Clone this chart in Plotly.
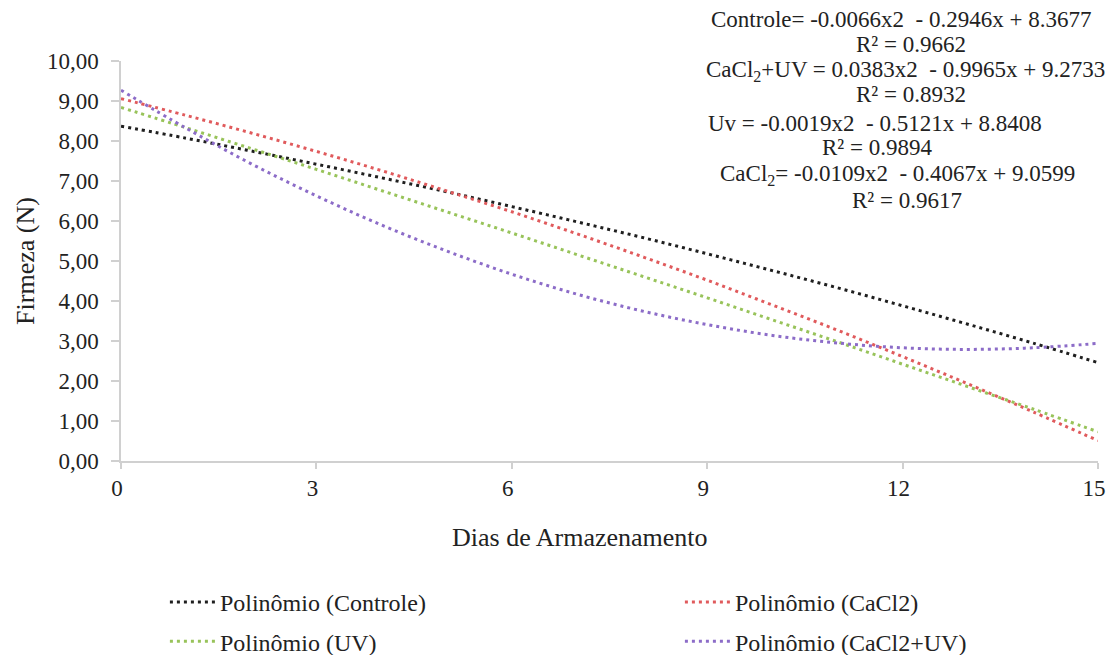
import plotly.graph_objects as go

# Storage days
dias = [0, 1, 2, 3, 4, 5, 6, 7, 8, 9, 10, 11, 12, 13, 14, 15]

# Firmness values (N)
controle = [8.37, 8.07, 7.75, 7.42, 7.08, 6.73, 6.36, 5.98, 5.59, 5.18, 4.76, 4.33, 3.88, 3.42, 2.95, 2.46]
cacl2 = [9.06, 8.64, 8.20, 7.74, 7.26, 6.75, 6.23, 5.68, 5.11, 4.52, 3.90, 3.27, 2.61, 1.93, 1.23, 0.51]
uv = [8.84, 8.33, 7.81, 7.29, 6.76, 6.23, 5.70, 5.16, 4.62, 4.08, 3.53, 2.98, 2.42, 1.86, 1.30, 0.73]
cacl2_uv = [9.27, 8.32, 7.43, 6.63, 5.90, 5.25, 4.67, 4.17, 3.75, 3.41, 3.14, 2.95, 2.83, 2.79, 2.83, 2.94]

series_names = ["Polinômio (Controle)", "Polinômio (CaCl2)", "Polinômio (UV)", "Polinômio (CaCl2+UV)"]
series_values = [controle, cacl2, uv, cacl2_uv]
series_colors = ["#1f1f1f", "#e05a5c", "#98c35a", "#8c6cc8"]

x_ticks = [0, 3, 6, 9, 12, 15]
y_ticks = [0, 1, 2, 3, 4, 5, 6, 7, 8, 9, 10]

equations = [
    "Controle= -0.0066x2  - 0.2946x + 8.3677",
    "R² = 0.9662",
    "CaCl<sub>2</sub>+UV = 0.0383x2  - 0.9965x + 9.2733",
    "R² = 0.8932",
    "Uv = -0.0019x2  - 0.5121x + 8.8408",
    "R² = 0.9894",
    "CaCl<sub>2</sub>= -0.0109x2  - 0.4067x + 9.0599",
    "R² = 0.9617",
]
# positions in screen pixels
eq_x_px = [901, 911, 905, 911, 875, 877, 897, 907]
eq_y_px = [19, 44, 71, 95, 124, 147, 175, 200]

FONT = "Liberation Serif"
TXT = "#222222"

# The page body has an 8px margin: keep the figure inside the window
OFF = 8
W, H = 1115 - 2 * OFF, 663 - 2 * OFF
PX0, PX1 = 121, 1098      # plot area x in screen pixels
PY0, PY1 = 61, 461        # plot area y in screen pixels
L = PX0 - OFF
R = W - (PX1 - OFF)
T = PY0 - OFF
B = H - (PY1 - OFF)
pw = PX1 - PX0
ph = PY1 - PY0


def px_x(xr):
    return (xr - PX0) / pw


def px_y(yr):
    return (PY1 - yr) / ph


fig = go.Figure()
for i, (name, vals, col) in enumerate(zip(series_names, series_values, series_colors)):
    fig.add_trace(go.Scatter(
        x=dias, y=vals, mode="lines", name=name, legendgroup=f"g{i}",
        line=dict(color=col, width=3, dash="3px,4px", shape="spline", smoothing=1.0),
    ))

for txt, xp, yp in zip(equations, eq_x_px, eq_y_px):
    fig.add_annotation(
        text=txt, xref="paper", yref="paper",
        x=px_x(xp), y=px_y(yp),
        xanchor="center", yanchor="middle", showarrow=False,
        font=dict(family=FONT, size=23, color=TXT),
    )

fig.add_annotation(
    text="Dias de Armazenamento", xref="paper", yref="paper",
    x=px_x(580), y=px_y(537),
    xanchor="center", yanchor="middle", showarrow=False,
    font=dict(family=FONT, size=26, color=TXT),
)

fig.update_layout(
    width=W, height=H,
    margin=dict(l=L, r=R, t=T, b=B, autoexpand=False),
    paper_bgcolor="white", plot_bgcolor="white",
    separators=",.",
    font=dict(family=FONT, color=TXT),
    showlegend=True,
    legend=dict(
        orientation="h", x=-0.0001, y=px_y(580),
        xanchor="left", yanchor="top",
        traceorder="grouped", tracegroupgap=5,
        indentation=44, itemwidth=45,
        entrywidth=411, entrywidthmode="pixels",
        font=dict(family=FONT, size=24, color=TXT),
        bgcolor="rgba(0,0,0,0)",
    ),
    xaxis=dict(
        range=[0, 15], tickvals=x_ticks, ticktext=[str(v) for v in x_ticks],
        showgrid=False, zeroline=False, showline=True, linecolor="#d0d0d0", linewidth=1.5,
        ticks="outside", ticklen=6, tickcolor="#d0d0d0", tickwidth=1.5,
        tickfont=dict(family=FONT, size=23, color=TXT), ticklabelstandoff=0,
        ticklabelshift=-4, ticklabeloverflow="allow", automargin=False,
    ),
    yaxis=dict(
        range=[0, 10], tickvals=y_ticks, tickformat=".2f",
        showgrid=False, zeroline=False, showline=True, linecolor="#d0d0d0", linewidth=1.5,
        ticks="outside", ticklen=8, tickcolor="#d0d0d0", tickwidth=1.5,
        tickfont=dict(family=FONT, size=23, color=TXT), ticklabelstandoff=8,
        title=dict(text="Firmeza (N)", font=dict(family=FONT, size=26, color=TXT), standoff=5),
        automargin=False,
    ),
)

fig.write_html("out.html")
